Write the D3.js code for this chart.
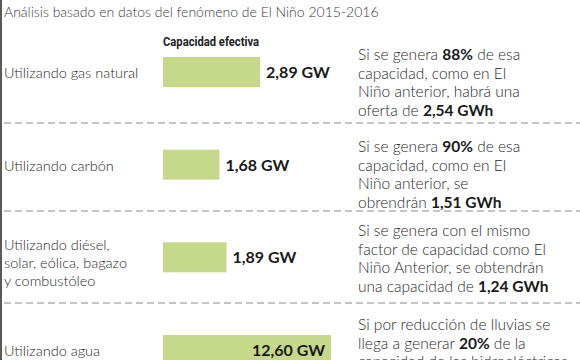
<!DOCTYPE html>
<html><head><meta charset="utf-8">
<script src="https://cdn.jsdelivr.net/npm/d3@7"></script>
<style>
html,body{margin:0;padding:0;background:#fff;overflow:hidden}
svg{display:block}
</style></head>
<body>
<script>
const title = "Análisis basado en datos del fenómeno de El Niño 2015-2016";
const axisTitle = "Capacidad efectiva";
const categories = [
  ["Utilizando gas natural"],
  ["Utilizando carbón"],
  ["Utilizando diésel,", "solar, eólica, bagazo", "y combustóleo"],
  ["Utilizando agua"]
];
const values = [2.89, 1.68, 1.89, 12.60];
const unit = "GW";
const notes = [
  ["Si se genera **88%** de esa", "capacidad, como en El", "Niño anterior, habrá una", "oferta de **2,54 GWh**"],
  ["Si se genera **90%** de esa", "capacidad, como en El", "Niño anterior, se", "obrendrán **1,51 GWh**"],
  ["Si se genera con el mismo", "factor de capacidad como El", "Niño Anterior, se obtendrán", "una capacidad de **1,24 GWh**"],
  ["Si por reducción de lluvias se", "llega a generar **20%** de la", "capacidad de las hidroeléctricas"]
];

const W = 580, H = 360;
const FONT = "Lato, 'Open Sans', sans-serif";
const svg = d3.select("body").append("svg").attr("width", W).attr("height", H);

const locale = d3.formatLocale({decimal: ",", thousands: ".", grouping: [3], currency: ["", ""]});
const fmt = locale.format(".2f");

const x = d3.scaleLinear().domain([0, 5]).range([163, 331]).clamp(true);
const y = d3.scalePoint().domain(d3.range(categories.length)).range([72, 350]);
const barH = 30;

// left border
svg.append("rect").attr("x", 0).attr("y", 0).attr("width", 2).attr("height", H).attr("fill", "#5a5a5a");

// title
svg.append("text").attr("x", 4).attr("y", 17).attr("font-family", FONT).attr("font-weight", 300)
  .attr("font-size", 14).attr("fill", "#3a3a3a").text(title);

svg.append("text").attr("x", 163).attr("y", 46).attr("font-family", "'Liberation Sans Narrow', 'Roboto', sans-serif")
  .attr("font-weight", 700).attr("font-size", 12.5).attr("fill", "#222")
  .attr("textLength", 96).attr("lengthAdjust", "spacingAndGlyphs").text(axisTitle);

// dashed separators
const seps = [123, 211, 303];
svg.selectAll("line.sep").data(seps).join("line").attr("class", "sep")
  .attr("x1", 4).attr("x2", W).attr("y1", d => d).attr("y2", d => d)
  .attr("stroke", "#8a8a8a").attr("stroke-width", 1).attr("stroke-dasharray", "7,4");

const rows = svg.selectAll("g.row").data(values).join("g").attr("class", "row");

// bars
rows.append("rect")
  .attr("x", x(0)).attr("y", (d, i) => y(i) - barH / 2)
  .attr("width", d => x(d) - x(0)).attr("height", barH)
  .attr("fill", "#c6d98a");

// value labels
rows.append("text")
  .attr("x", d => d > x.domain()[1] ? x(d) - 6 : x(d) + 6)
  .attr("text-anchor", d => d > x.domain()[1] ? "end" : "start")
  .attr("y", (d, i) => y(i) + 6)
  .attr("font-family", FONT).attr("font-weight", 700).attr("font-size", 16).attr("fill", "#1a1a1a")
  .text(d => fmt(d) + " " + unit);

// category labels
const lh = 18;
rows.append("text")
  .attr("font-family", FONT).attr("font-weight", 300).attr("font-size", 14.5).attr("fill", "#2a2a2a")
  .each(function(d, i) {
    const lines = categories[i];
    const y0 = y(i) + 6 - (lines.length - 1) * lh / 2 + (lines.length > 1 ? 5 : 0);
    d3.select(this).selectAll("tspan").data(lines).join("tspan")
      .attr("x", 4).attr("y", (l, j) => y0 + j * lh).text(l => l);
  });

// notes
const noteOffsets = [-12, -12.5, -21, -20];
const nlh = 18.5;
rows.append("text")
  .attr("font-family", FONT).attr("font-weight", 300).attr("font-size", 15.5).attr("fill", "#2a2a2a")
  .each(function(d, i) {
    const t = d3.select(this);
    notes[i].forEach((line, j) => {
      const parts = line.split("**");
      parts.forEach((p, k) => {
        if (!p) return;
        const ts = t.append("tspan").text(p);
        if (k === 0) ts.attr("x", 358).attr("y", y(i) + noteOffsets[i] + j * nlh);
        if (k % 2 === 1) ts.attr("font-weight", 700).attr("fill", "#1a1a1a");
      });
    });
  });
</script>
</body></html>
